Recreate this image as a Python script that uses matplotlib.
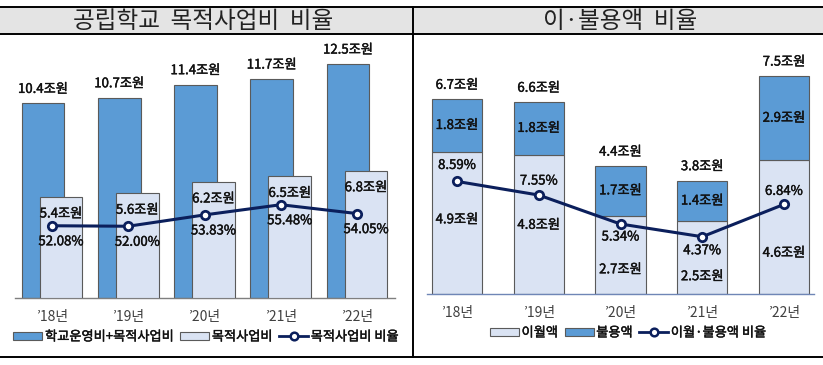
import matplotlib
matplotlib.use("Agg")
import matplotlib.pyplot as plt
import matplotlib.patheffects as pe
from matplotlib.patches import Rectangle, Patch
from matplotlib.lines import Line2D

plt.rcParams['font.family'] = ['Noto Sans CJK KR', 'DejaVu Sans']

# 데이터
years = ["’18년", "’19년", "’20년", "’21년", "’22년"]
# 공립학교 목적사업비 비율 (조원, %)
total_budget = [10.4, 10.7, 11.4, 11.7, 12.5]
purpose_budget = [5.4, 5.6, 6.2, 6.5, 6.8]
purpose_ratio = [52.08, 52.00, 53.83, 55.48, 54.05]
# 이·불용액 비율 (조원, %)
carryover = [4.9, 4.8, 2.7, 2.5, 4.6]
unused = [1.8, 1.8, 1.7, 1.4, 2.9]
unused_total = [6.7, 6.6, 4.4, 3.8, 7.5]
unused_ratio = [8.59, 7.55, 5.34, 4.37, 6.84]

DARK = "#5b9bd5"
LIGHT = "#dae3f3"
EDGE = "#5a5a5a"
NAVY = "#0b1f5c"
TXT = "#111111"
FS = 9.5
# 글자를 살짝 굵게
THICK = [pe.withStroke(linewidth=0.3, foreground=TXT)]

W, H = 823, 365
fig = plt.figure(figsize=(W / 100, H / 100), dpi=100)


def box(x0, y0, x1, y1):
    # 픽셀 좌표 -> figure 좌표
    return [x0 / W, 1 - y1 / H, (x1 - x0) / W, (y1 - y0) / H]


def px2pt(p):
    return p * 0.72


def label(ax, s, xy, dy):
    ax.annotate(s, xy, xytext=(0, px2pt(dy)), textcoords="offset points", ha="center",
                va="center", fontsize=FS, color=TXT, path_effects=THICK, zorder=5)


# 제목 띠와 테두리
fig.patches.append(Rectangle((0, 1 - 34 / H), 1, 27 / H, transform=fig.transFigure,
                             facecolor="#e4e4e4", edgecolor="none", zorder=0))
for yy in (7, 34, 357):
    fig.add_artist(Line2D([0, 1], [1 - yy / H] * 2, color="black", lw=1.4))
fig.add_artist(Line2D([413 / W] * 2, [1 - 7 / H, 1 - 357 / H], color="black", lw=1.4))

fig.text(203 / W, 1 - 21 / H, "공립학교  목적사업비  비율", ha="center", va="center",
         fontsize=17, color="#222222", fontweight="light")
fig.text(620 / W, 1 - 21 / H, "이·불용액  비율", ha="center", va="center",
         fontsize=17, color="#222222", fontweight="light")

x = list(range(len(years)))

# ---------- 왼쪽: 공립학교 목적사업비 비율 ----------
ax1 = fig.add_axes(box(15, 45, 395, 298))
bw = 0.56
off = 0.118
xd = [i - off for i in x]
xl = [i + off for i in x]
ax1.bar(xd, total_budget, width=bw, color=DARK, edgecolor=EDGE, linewidth=0.8, zorder=2)
ax1.bar(xl, purpose_budget, width=bw, color=LIGHT, edgecolor=EDGE, linewidth=0.8, zorder=3)
ax1.set_xlim(-0.485, 4.498)
ax1.set_ylim(0, 13.52)

for i in x:
    label(ax1, f"{total_budget[i]}조원", (xd[i], total_budget[i]), 14)
    label(ax1, f"{purpose_budget[i]}조원", (xl[i], purpose_budget[i]), -17)

ax1b = ax1.twinx()
ax1b.plot(x, purpose_ratio, color=NAVY, lw=2.2, marker="o", ms=6, mfc="white",
          mec=NAVY, mew=2, zorder=4)
ax1b.set_ylim(40.4, 81.3)
for i in x:
    label(ax1b, f"{purpose_ratio[i]:.2f}%", (xl[i], purpose_ratio[i]), -16)

# ---------- 오른쪽: 이·불용액 비율 ----------
ax2 = fig.add_axes(box(427, 45, 814, 294))
bw2 = 0.612
ax2.bar(x, carryover, width=bw2, color=LIGHT, edgecolor=EDGE, linewidth=0.8, zorder=2)
ax2.bar(x, unused, width=bw2, bottom=carryover, color=DARK, edgecolor=EDGE, linewidth=0.8, zorder=2)
ax2.set_xlim(-0.367, 4.367)
ax2.set_ylim(0, 8.57)

# 라벨 위치 보정 (픽셀, 위쪽 +)
carry_shift = [3, -1, -15, -19, -26]
ratio_shift = [16, 14, -13, -14, 13]

for i in x:
    top = carryover[i] + unused[i]
    label(ax2, f"{unused_total[i]}조원", (i, top), 14)
    label(ax2, f"{unused[i]}조원", (i, carryover[i] + unused[i] / 2), 0)
    label(ax2, f"{carryover[i]}조원", (i, carryover[i] / 2), carry_shift[i])

ax2b = ax2.twinx()
ax2b.plot(x, unused_ratio, color=NAVY, lw=2.2, marker="o", ms=6, mfc="white",
          mec=NAVY, mew=2, zorder=4)
ax2b.set_ylim(0, 19.0)
for i in x:
    label(ax2b, f"{unused_ratio[i]:.2f}%", (i, unused_ratio[i]), ratio_shift[i])

# 축 설정
for ax, spine_col in ((ax1, "#7f7f7f"), (ax2, "#6f86b6")):
    for s in ax.spines.values():
        s.set_visible(False)
    ax.spines["bottom"].set_visible(True)
    ax.spines["bottom"].set_color(spine_col)
    ax.spines["bottom"].set_linewidth(1.0)
    ax.set_yticks([])
    ax.set_xticks(x, years)
    ax.tick_params(axis="x", length=0, pad=9, labelsize=10, labelcolor="#404040")
    ax.patch.set_alpha(0)
for ax in (ax1b, ax2b):
    ax.axis("off")

# 범례
h_left = [Patch(facecolor=DARK, edgecolor=EDGE, lw=0.8, label="학교운영비+목적사업비"),
          Patch(facecolor=LIGHT, edgecolor=EDGE, lw=0.8, label="목적사업비"),
          Line2D([], [], color=NAVY, lw=2, marker="o", ms=5.5, mfc="white", mec=NAVY, mew=1.8,
                 label="목적사업비 비율")]
leg1 = fig.legend(handles=h_left, loc="center", bbox_to_anchor=(206 / W, 1 - 337 / H), ncol=3,
                  frameon=False, fontsize=FS, handlelength=2.2, handleheight=0.6,
                  handletextpad=0.2, columnspacing=0.5)

h_right = [Patch(facecolor=LIGHT, edgecolor=EDGE, lw=0.8, label="이월액"),
           Patch(facecolor=DARK, edgecolor=EDGE, lw=0.8, label="불용액"),
           Line2D([], [], color=NAVY, lw=2, marker="o", ms=5.5, mfc="white", mec=NAVY, mew=1.8,
                  label="이월·불용액 비율")]
leg2 = fig.legend(handles=h_right, loc="center", bbox_to_anchor=(628 / W, 1 - 333 / H), ncol=3,
                  frameon=False, fontsize=FS, handlelength=2.2, handleheight=0.6,
                  handletextpad=0.2, columnspacing=0.5)
for leg in (leg1, leg2):
    for t in leg.get_texts():
        t.set_path_effects(THICK)
        t.set_color(TXT)

fig.savefig("out.png", dpi=100)
